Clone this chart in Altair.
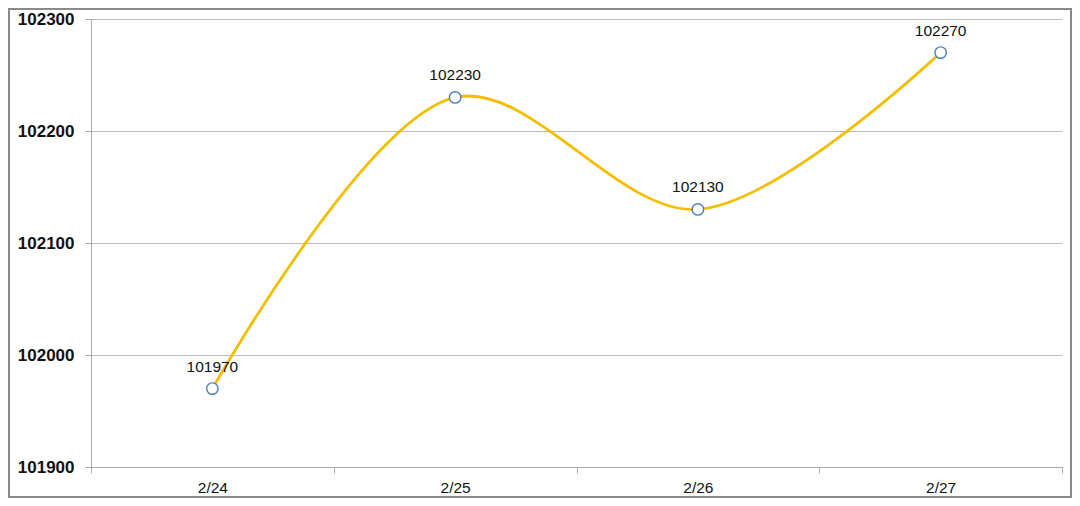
import altair as alt
import pandas as pd

dates = ["2/24", "2/25", "2/26", "2/27"]
values = [101970, 102230, 102130, 102270]
y_ticks = [101900, 102000, 102100, 102200, 102300]

df = pd.DataFrame({"date": dates, "value": values})

W, H = 971, 448
PL, PT, PR, PB = 83, 11, 10, 31

x_enc = alt.X("date:N", sort=dates, title=None,
              scale=alt.Scale(paddingInner=0, paddingOuter=0),
              axis=alt.Axis(labelAngle=0, labelFont="Liberation Sans", labelFontSize=15.5,
                            labelColor="#111", labelPadding=7, tickBand="extent",
                            tickSize=6, tickColor="#aaaaaa", domainColor="#aaaaaa",
                            grid=False))
y_enc = alt.Y("value:Q", title=None,
              scale=alt.Scale(domain=[101900, 102300], nice=False, zero=False),
              axis=alt.Axis(values=y_ticks, format="d", labelFont="Liberation Sans",
                            labelFontSize=17, labelFontWeight="bold", labelColor="#111",
                            labelPadding=11, tickSize=6, tickColor="#aaaaaa",
                            domainColor="#aaaaaa", gridColor="#bbbbbb", grid=True))

base = alt.Chart(df)

frame = alt.Chart(pd.DataFrame({"a": [0]})).mark_rect(
    fill=None, stroke="#8a8a8a", strokeWidth=2
).encode(
    x=alt.value(-PL + 1), x2=alt.value(W + PR - 1),
    y=alt.value(-PT + 1), y2=alt.value(H + PB - 1)
)

line = base.mark_line(color="#F3BE00", strokeWidth=2.8, interpolate="catmull-rom").encode(
    x=x_enc, y=y_enc)
points = base.mark_point(shape="circle", filled=True, fill="white", stroke="#4A7EBB",
                         strokeWidth=1.4, size=130, opacity=1).encode(
    x=alt.X("date:N", sort=dates), y="value:Q")
labels = base.mark_text(dy=-22, font="Liberation Sans", fontSize=15.5, color="#111").encode(
    x=alt.X("date:N", sort=dates), y="value:Q", text=alt.Text("value:Q", format="d"))

chart = alt.layer(line, points, labels, frame).properties(
    width=W, height=H,
    autosize=alt.AutoSizeParams(type="none"),
    padding={"left": PL, "top": PT, "right": PR, "bottom": PB},
).configure_view(stroke=None)

chart.save("out.html", embed_options={"renderer": "svg", "actions": False})
